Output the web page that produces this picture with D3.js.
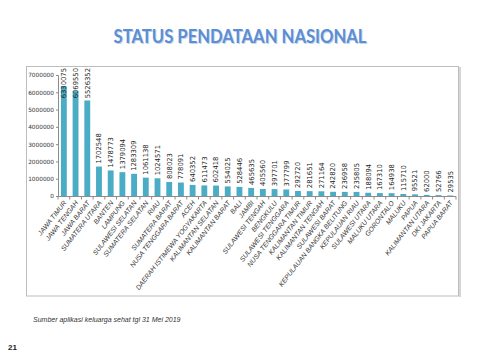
<!DOCTYPE html>
<html><head><meta charset="utf-8">
<script src="https://cdn.jsdelivr.net/npm/d3@7"></script>
<style>body{margin:0;background:#fff}svg{display:block}</style>
</head><body>
<svg id="c" width="480" height="360"></svg>
<script>
const provinces = ["JAWA TIMUR","JAWA TENGAH","JAWA BARAT","SUMATERA UTARA","BANTEN","LAMPUNG","SULAWESI SELATAN","SUMATERA SELATAN","RIAU","SUMATERA BARAT","NUSA TENGGARA BARAT","ACEH","DAERAH ISTIMEWA YOGYAKARTA","KALIMANTAN SELATAN","KALIMANTAN BARAT","BALI","JAMBI","SULAWESI TENGAH","BENGKULU","SULAWESI TENGGARA","NUSA TENGGARA TIMUR","KALIMANTAN TIMUR","KALIMANTAN TENGAH","SULAWESI BARAT","KEPULAUAN BANGKA BELITUNG","KEPULAUAN RIAU","SULAWESI UTARA","MALUKU UTARA","GORONTALO","MALUKU","PAPUA","KALIMANTAN UTARA","DKI JAKARTA","PAPUA BARAT"];
const values = [6330075,6069550,5526352,1702548,1478773,1379094,1283309,1061138,1024571,808023,778091,640352,611473,602418,554025,528446,465635,405560,397701,377799,292720,281651,271164,242820,236958,235805,188094,167310,164938,115710,95521,62000,52766,29535];
const yTicks = [0,1000000,2000000,3000000,4000000,5000000,6000000,7000000];
const titleText = "STATUS PENDATAAN NASIONAL";
const sourceText = "Sumber aplikasi keluarga sehat tgl 31 Mei 2019";
const pageNum = "21";

const svg = d3.select("#c");
const data = provinces.map((p,i)=>({p, v:values[i]}));

// title
svg.append("text").attr("x",241).attr("y",43.5).attr("text-anchor","middle")
  .attr("font-family","Lato, 'Open Sans', sans-serif").attr("font-weight","bold")
  .attr("font-size",19).attr("fill","#9fb6d6").attr("opacity",0.6)
  .attr("textLength",253).attr("lengthAdjust","spacingAndGlyphs").text(titleText);
svg.append("text").attr("x",240).attr("y",42.5).attr("text-anchor","middle")
  .attr("font-family","Lato, 'Open Sans', sans-serif").attr("font-weight","bold")
  .attr("font-size",19).attr("fill","#5b8ed4")
  .attr("textLength",253).attr("lengthAdjust","spacingAndGlyphs").text(titleText);

// chart frame
svg.append("rect").attr("x",26.5).attr("y",66.5).attr("width",432).attr("height",229.5)
  .attr("fill","#fff").attr("stroke","#bdbdbd").attr("stroke-width",1);
svg.append("line").attr("x1",460).attr("x2",460).attr("y1",67).attr("y2",297)
  .attr("stroke","#d6d6d6").attr("stroke-width",2);

const y = d3.scaleLinear().domain([0,7000000]).range([196,75]);
const x = d3.scaleBand().domain(provinces).range([58,456]).paddingInner(0.5).paddingOuter(0.25);

// y axis
const ya = svg.append("g").attr("transform","translate(58,0)")
  .call(d3.axisLeft(y).tickValues(yTicks).tickFormat(d3.format("d")).tickSize(2).tickPadding(2));
ya.select(".domain").attr("stroke","#8c8c8c");
ya.selectAll(".tick line").attr("stroke","#8c8c8c");
ya.selectAll(".tick text").attr("font-family","'DejaVu Sans', sans-serif").attr("font-size",5.8).attr("fill","#333");

// bars
svg.append("g").selectAll("rect").data(data).join("rect")
  .attr("x",d=>x(d.p)).attr("width",x.bandwidth())
  .attr("y",d=>y(d.v)).attr("height",d=>y(0)-y(d.v))
  .attr("fill","#4bacc6");

// x baseline and ticks
svg.append("line").attr("x1",58).attr("x2",456).attr("y1",196.5).attr("y2",196.5).attr("stroke","#8c8c8c");
const bounds = d3.range(provinces.length+1).map(i=>x.range()[0]+i*x.step());
svg.append("g").selectAll("line").data(bounds).join("line")
  .attr("x1",d=>d).attr("x2",d=>d).attr("y1",196.5).attr("y2",199.5).attr("stroke","#8c8c8c");

// value labels
const vl = svg.append("g").selectAll("text").data(data).join("text")
  .attr("font-family","'DejaVu Sans', sans-serif").attr("font-size",6.8).attr("fill","#222")
  .text(d=>d.v);
vl.each(function(d){
  const len = this.getComputedTextLength();
  let bottom = y(d.v) - 3;
  if (bottom - len < 68) bottom = 68 + len;
  const cx = x(d.p) + x.bandwidth()/2 + 2.4;
  d3.select(this).attr("transform",`translate(${cx},${bottom}) rotate(-90)`);
});

// category labels
svg.append("g").selectAll("text").data(data).join("text")
  .attr("font-family","'Liberation Sans', sans-serif").attr("font-style","italic")
  .attr("font-size",6.8).attr("fill","#333").attr("text-anchor","end")
  .attr("transform",d=>`translate(${x(d.p)+x.bandwidth()/2+3},${203}) rotate(-52)`)
  .text(d=>d.p);

// source & page
svg.append("text").attr("x",33).attr("y",322).attr("font-family","'Liberation Sans', sans-serif")
  .attr("font-style","italic").attr("font-size",7).attr("fill","#333").text(sourceText);
svg.append("text").attr("x",8).attr("y",350).attr("font-family","'Liberation Sans', sans-serif")
  .attr("font-weight","bold").attr("font-size",8).attr("fill","#222").text(pageNum);
</script>
</body></html>
